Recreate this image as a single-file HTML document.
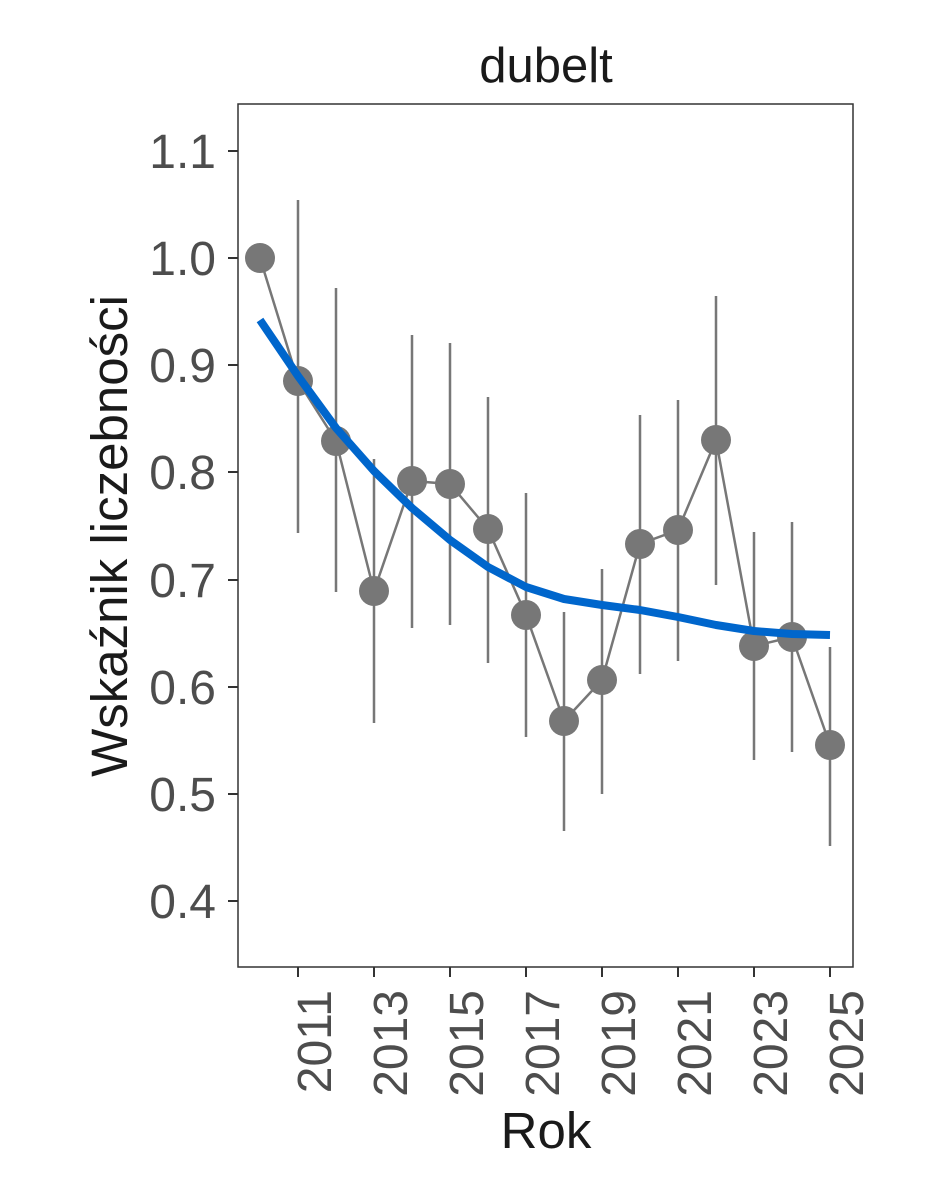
<!DOCTYPE html>
<html><head><meta charset="utf-8"><style>body{margin:0;background:#fff}</style></head><body>
<svg width="944" height="1181" viewBox="0 0 944 1181" xmlns="http://www.w3.org/2000/svg" font-family="Liberation Sans, Arial, sans-serif">
<rect width="944" height="1181" fill="#fff"/>
<text x="546" y="82" font-size="49" text-anchor="middle" fill="#1a1a1a">dubelt</text>
<rect x="238" y="104" width="615" height="863" fill="none" stroke="#333" stroke-width="1.5"/>
<g stroke="#333" stroke-width="2">
<line x1="228" y1="151" x2="238" y2="151"/><line x1="228" y1="258" x2="238" y2="258"/><line x1="228" y1="365" x2="238" y2="365"/><line x1="228" y1="472" x2="238" y2="472"/><line x1="228" y1="580" x2="238" y2="580"/><line x1="228" y1="687" x2="238" y2="687"/><line x1="228" y1="794" x2="238" y2="794"/><line x1="228" y1="901" x2="238" y2="901"/>
<line x1="298" y1="967" x2="298" y2="977"/><line x1="374" y1="967" x2="374" y2="977"/><line x1="450" y1="967" x2="450" y2="977"/><line x1="526" y1="967" x2="526" y2="977"/><line x1="602" y1="967" x2="602" y2="977"/><line x1="678" y1="967" x2="678" y2="977"/><line x1="754" y1="967" x2="754" y2="977"/><line x1="830" y1="967" x2="830" y2="977"/>
</g>
<g font-size="48" fill="#4d4d4d" text-anchor="end">
<text x="216" y="168">1.1</text><text x="216" y="275">1.0</text><text x="216" y="382">0.9</text><text x="216" y="489">0.8</text><text x="216" y="597">0.7</text><text x="216" y="704">0.6</text><text x="216" y="811">0.5</text><text x="216" y="918">0.4</text>
</g>
<g font-size="48" fill="#4d4d4d" text-anchor="end">
<text transform="translate(331,990) rotate(-90)">2011</text>
<text transform="translate(407,990) rotate(-90)">2013</text>
<text transform="translate(483,990) rotate(-90)">2015</text>
<text transform="translate(559,990) rotate(-90)">2017</text>
<text transform="translate(635,990) rotate(-90)">2019</text>
<text transform="translate(711,990) rotate(-90)">2021</text>
<text transform="translate(787,990) rotate(-90)">2023</text>
<text transform="translate(863,990) rotate(-90)">2025</text>
</g>
<text x="546" y="1148" font-size="51" text-anchor="middle" fill="#1a1a1a">Rok</text>
<text transform="translate(127,536) rotate(-90)" font-size="51" text-anchor="middle" fill="#1a1a1a">Wskaźnik liczebności</text>
<g stroke="#777" stroke-width="2.5">
<line x1="298" y1="200" x2="298" y2="533"/>
<line x1="336" y1="288" x2="336" y2="592"/>
<line x1="374" y1="459" x2="374" y2="723"/>
<line x1="412" y1="335" x2="412" y2="628"/>
<line x1="450" y1="343" x2="450" y2="625"/>
<line x1="488" y1="397" x2="488" y2="663"/>
<line x1="526" y1="493" x2="526" y2="737"/>
<line x1="564" y1="612" x2="564" y2="831"/>
<line x1="602" y1="569" x2="602" y2="794"/>
<line x1="640" y1="415" x2="640" y2="674"/>
<line x1="678" y1="400" x2="678" y2="661"/>
<line x1="716" y1="296" x2="716" y2="585"/>
<line x1="754" y1="532" x2="754" y2="760"/>
<line x1="792" y1="522" x2="792" y2="752"/>
<line x1="830" y1="647" x2="830" y2="846"/>
</g>
<polyline fill="none" stroke="#777" stroke-width="2.5" points="260,258 298,381 336,441 374,591 412,481 450,484 488,529 526,615 564,721 602,680 640,544 678,530 716,440 754,646 792,637 830,745"/>
<g fill="#777">
<circle cx="260" cy="258" r="15"/><circle cx="298" cy="381" r="15"/><circle cx="336" cy="441" r="15"/><circle cx="374" cy="591" r="15"/><circle cx="412" cy="481" r="15"/><circle cx="450" cy="484" r="15"/><circle cx="488" cy="529" r="15"/><circle cx="526" cy="615" r="15"/><circle cx="564" cy="721" r="15"/><circle cx="602" cy="680" r="15"/><circle cx="640" cy="544" r="15"/><circle cx="678" cy="530" r="15"/><circle cx="716" cy="440" r="15"/><circle cx="754" cy="646" r="15"/><circle cx="792" cy="637" r="15"/><circle cx="830" cy="745" r="15"/>
</g>
<polyline fill="none" stroke="#0066cc" stroke-width="8" stroke-linejoin="round" points="260,320 298,376 336,428 374,471 412,508 450,540 488,567 526,587 564,599 602,605 640,610 678,617 716,625 754,631 792,634 830,635"/>
</svg>
</body></html>
